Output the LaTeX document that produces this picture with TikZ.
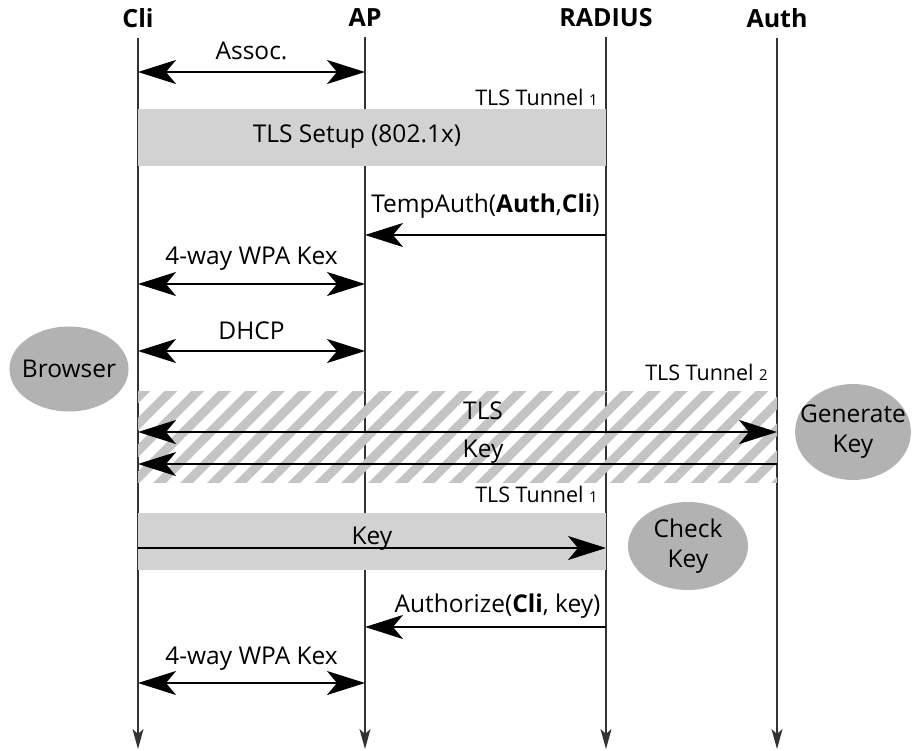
\documentclass[tikz,border=0pt]{standalone}
\usepackage{fontspec}
\setmainfont{Open Sans}
\usetikzlibrary{arrows.meta,patterns.meta,shapes.geometric}

\newcommand{\tnum}[1]{{\fontsize{15}{15}\selectfont #1}}

\begin{document}
\begin{tikzpicture}[
    x=1pt, y=-1pt,
    font=\fontsize{24.5}{30}\selectfont,
    head/.style={font=\fontsize{25}{30}\selectfont\bfseries, inner sep=0pt},
    life/.style={line width=1.3pt, black!80, shorten <=10pt, -{Stealth[length=20pt,width=11pt,inset=5pt]}},
    msg/.style={line width=2.4pt, -{Stealth[length=38pt,width=24pt,inset=10pt]}},
    dmsg/.style={msg, {Stealth[length=38pt,width=24pt,inset=10pt]}-{Stealth[length=38pt,width=24pt,inset=10pt]}},
    lbl/.style={midway, anchor=base, inner sep=0pt, yshift=#1},
    tunnel/.style={fill=gray!35},
    hatched/.style={pattern={Lines[angle=45,distance=19pt,line width=9pt]}, pattern color=gray!46},
    tag/.style={anchor=south east, inner sep=0pt, font=\fontsize{21.5}{26}\selectfont},
    blob/.style={ellipse, fill=gray!60, align=center, inner ysep=0pt}
]

\useasboundingbox (0,0) rectangle (913,750);

% Participants
\node[head] (cli) at (138,18) {Cli};
\node[head] (ap) at (365,18) {AP};
\node[head] (radius) at (606,18) {RADIUS};
\node[head] (auth) at (777,18) {Auth};

\coordinate (cli-end) at (138,749);
\coordinate (ap-end) at (365,749);
\coordinate (radius-end) at (606,749);
\coordinate (auth-end) at (777,749);

% Lifelines
\draw[life] (cli.south) -- (cli-end);
\draw[life] (ap.south) -- (ap-end);
\draw[life] (radius.south) -- (radius-end);
\draw[life] (auth.south) -- (auth-end);

% Message rows
\foreach \n/\y in {assoc/72, temp/235, wpaa/284, dhcp/351, tls/432, keyb/464, key/548, authz/627, wpab/683} {
    \coordinate (cli-\n) at (138,\y);
    \coordinate (ap-\n) at (365,\y);
    \coordinate (radius-\n) at (606,\y);
    \coordinate (auth-\n) at (777,\y);
}

% Tunnels
\fill[tunnel] (138,109) rectangle (606,166);
\node at (357,137) (setup) {TLS Setup (802.1x)};
\node[tag] (tun1a) at (598,106) {TLS Tunnel \tnum{1}};

\fill[hatched] (138,391) rectangle (777,482);
\node[tag] (tun2) at (768,381) {TLS Tunnel \tnum{2}};

\fill[tunnel] (138,513) rectangle (606,570);
\node[tag] (tun1b) at (598,503) {TLS Tunnel \tnum{1}};

% Side actions
\node[blob, inner xsep=-5pt, minimum width=118pt, minimum height=85pt] (browser) at (69,369) {Browser};
\node[blob, inner xsep=-12pt, minimum width=114pt, minimum height=96pt] (gen) at (853,432) {Generate\\Key};
\node[blob, inner xsep=6pt, minimum width=120pt, minimum height=88pt] (check) at (688,546) {Check\\Key};

% Messages
\draw[dmsg] (cli-assoc) -- node[lbl=13pt] {Assoc.} (ap-assoc);
\draw[msg] (radius-temp) -- node[lbl=23pt] {TempAuth(\textbf{Auth},\textbf{Cli})} (ap-temp);
\draw[dmsg] (cli-wpaa) -- node[lbl=20pt] {4-way WPA Kex} (ap-wpaa);
\draw[dmsg] (cli-dhcp) -- node[lbl=12pt] {DHCP} (ap-dhcp);
\draw[dmsg] (cli-tls) -- node[lbl=13pt, pos=0.54] {TLS} (auth-tls);
\draw[msg] (auth-keyb) -- node[lbl=7pt, pos=0.46] {Key} (cli-keyb);
\draw[msg] (cli-key) -- node[lbl=4pt] {Key} (radius-key);
\draw[msg] (radius-authz) -- node[lbl=15pt, pos=0.45] {Authorize(\textbf{Cli}, key)} (ap-authz);
\draw[dmsg] (cli-wpab) -- node[lbl=19pt] {4-way WPA Kex} (ap-wpab);

\end{tikzpicture}
\end{document}
